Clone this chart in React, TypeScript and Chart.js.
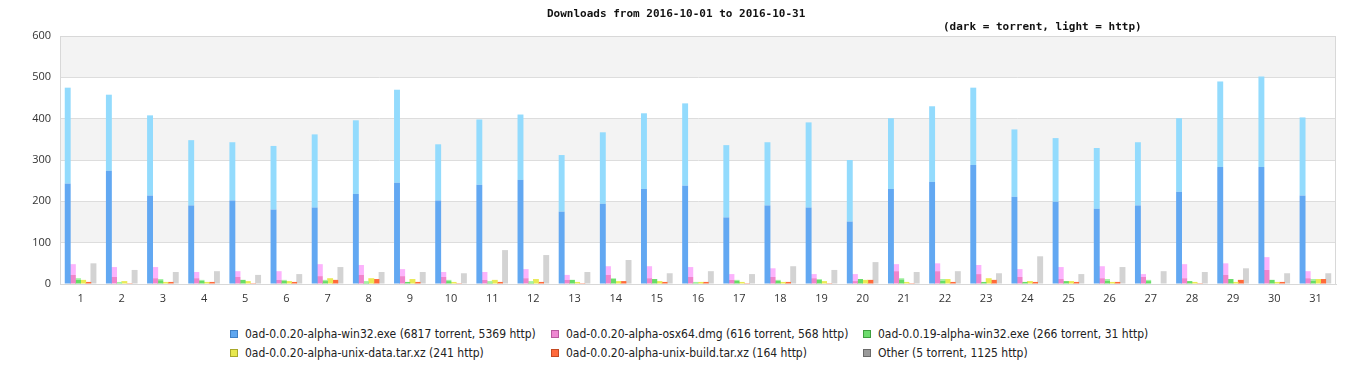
import React, { useEffect, useRef } from "react";
import { Chart, registerables } from "chart.js";

Chart.register(...registerables);

const days = ["1","2","3","4","5","6","7","8","9","10","11","12","13","14","15","16","17","18","19","20","21","22","23","24","25","26","27","28","29","30","31"];
const yTicks = [0, 100, 200, 300, 400, 500, 600];

const win32Torrent = [243,274,214,190,202,180,185,218,245,202,240,252,175,194,230,238,161,190,185,151,230,247,288,211,199,182,190,223,283,283,214];
const win32Http = [232,184,194,158,141,154,177,178,225,136,158,158,137,173,183,199,175,153,206,149,171,183,187,163,154,147,153,178,207,219,189];
const osxTorrent = [22,17,14,14,17,10,19,22,19,17,10,14,10,22,14,17,10,17,14,7,31,31,24,17,12,14,17,14,22,34,14];
const osxHttp = [26,24,27,15,14,21,29,24,17,12,19,22,12,21,29,24,14,21,10,17,17,19,22,19,29,29,7,34,28,31,17];
const win19Torrent = [10,1,9,8,10,8,7,3,5,7,3,3,10,12,12,1,8,8,10,12,11,8,5,5,7,8,7,7,12,10,8];
const win19Http = [4,4,3,2,0,2,3,4,0,3,4,4,0,2,0,4,2,2,2,0,3,4,0,0,0,4,3,0,0,0,4];
const unixDataHttp = [10,7,5,5,7,7,14,14,12,5,10,12,5,7,7,5,5,5,7,10,5,12,14,7,7,5,0,5,5,5,12];
const unixBuildHttp = [5,2,5,5,2,5,10,12,5,2,5,5,2,7,5,5,2,5,2,10,2,5,10,5,5,5,0,2,10,5,12];
const otherHttp = [50,34,29,31,22,24,41,29,29,26,82,70,29,58,26,31,24,43,34,53,29,31,26,67,24,41,31,29,38,26,26];

const titleText = "Downloads from 2016-10-01 to 2016-10-31";
const subtitleText = "(dark = torrent, light = http)";

const legendItems = [
  { label: "0ad-0.0.20-alpha-win32.exe (6817 torrent, 5369 http)", color: "#5ea6f0", border: "#3f7fc4" },
  { label: "0ad-0.0.20-alpha-osx64.dmg (616 torrent, 568 http)", color: "#ee88d2", border: "#b85a9e" },
  { label: "0ad-0.0.19-alpha-win32.exe (266 torrent, 31 http)", color: "#6ddc6d", border: "#3e9e3e" },
  { label: "0ad-0.0.20-alpha-unix-data.tar.xz (241 http)", color: "#e8e84e", border: "#a8a82a" },
  { label: "0ad-0.0.20-alpha-unix-build.tar.xz (164 http)", color: "#ff6a3c", border: "#c44a22" },
  { label: "Other (5 torrent, 1125 http)", color: "#9a9a9a", border: "#6a6a6a" },
];

const bandPlugin = {
  id: "bands",
  beforeDraw(chart: any) {
    const { ctx, chartArea, scales } = chart;
    const y = scales.y;
    ctx.save();
    ctx.fillStyle = "#f3f3f3";
    [[100, 200], [300, 400], [500, 600]].forEach(([lo, hi]) => {
      const t = y.getPixelForValue(hi);
      const b = y.getPixelForValue(lo);
      ctx.fillRect(chartArea.left, t, chartArea.right - chartArea.left, b - t);
    });
    ctx.restore();
  },
  afterDraw(chart: any) {
    const { ctx, chartArea } = chart;
    ctx.save();
    ctx.strokeStyle = "#d8d8d8";
    ctx.lineWidth = 1;
    ctx.strokeRect(Math.round(chartArea.left) + 0.5, Math.round(chartArea.top) + 0.5,
      Math.round(chartArea.right - chartArea.left) - 1, Math.round(chartArea.bottom - chartArea.top));
    ctx.restore();
  },
};

export default function App() {
  const ref = useRef<HTMLCanvasElement | null>(null);
  useEffect(() => {
    if (!ref.current) return;
    const mk = (label: string, data: number[], color: string, stack: string) => ({
      label, data, backgroundColor: color, stack, borderWidth: 0,
      barPercentage: 1.15, categoryPercentage: 0.75,
    });
    const chart = new Chart(ref.current, {
      type: "bar",
      data: {
        labels: days,
        datasets: [
          mk("win32 torrent", win32Torrent, "#62a8f2", "a"),
          mk("win32 http", win32Http, "#93dbfd", "a"),
          mk("osx torrent", osxTorrent, "#f184cc", "b"),
          mk("osx http", osxHttp, "#fcb3fc", "b"),
          mk("0.19 torrent", win19Torrent, "#66dd66", "c"),
          mk("0.19 http", win19Http, "#a2f3a2", "c"),
          mk("unix-data http", unixDataHttp, "#eaea55", "d"),
          mk("unix-build http", unixBuildHttp, "#ff6a3a", "e"),
          mk("other http", otherHttp, "#d3d3d3", "f"),
        ],
      },
      options: {
        animation: false,
        responsive: true,
        maintainAspectRatio: false,
        layout: { padding: { top: 28, right: 22, left: 0, bottom: 0 } },
        plugins: { legend: { display: false }, tooltip: { enabled: false }, title: { display: false } },
        scales: {
          x: {
            stacked: true,
            grid: { display: false },
            border: { display: true, color: "#d8d8d8" },
            ticks: { color: "#333", font: { family: "Open Sans", size: 11 }, padding: 0, maxRotation: 0 },
            afterFit: (s: any) => { s.height = 24; },
          },
          y: {
            stacked: true,
            min: 0, max: 600,
            afterBuildTicks: (s: any) => { s.ticks = yTicks.map((v) => ({ value: v })); },
            grid: { color: "#dddddd", drawTicks: false },
            border: { display: true, color: "#d8d8d8" },
            ticks: { color: "#333", font: { family: "Open Sans", size: 11 }, padding: 9 },
            afterFit: (s: any) => { s.width = 52; },
          },
        },
      },
      plugins: [bandPlugin],
    });
    return () => chart.destroy();
  }, []);

  return (
    <div style={{ position: "relative", width: 1350, height: 364 }}>
      <div style={{ position: "absolute", left: 0, top: 0, width: 1350, height: 300 }}>
        <canvas ref={ref} />
      </div>
      <div style={{ position: "absolute", left: 539, top: -1, font: "bold 11px 'DejaVu Sans Mono'", color: "#111", whiteSpace: "nowrap" }}>{titleText}</div>
      <div style={{ position: "absolute", left: 935, top: 12, font: "bold 11px 'DejaVu Sans Mono'", color: "#111", whiteSpace: "nowrap" }}>{subtitleText}</div>
      {legendItems.map((it, i) => {
        const col = i % 3;
        const row = Math.floor(i / 3);
        const lefts = [222, 543, 855];
        return (
          <div key={i} style={{ position: "absolute", left: lefts[col], top: 319 + row * 19, display: "flex", alignItems: "center", whiteSpace: "nowrap", font: "12px 'DejaVu Sans Condensed', 'DejaVu Sans'", fontStretch: "condensed", color: "#222" }}>
            <span style={{ display: "inline-block", width: 6, height: 6, background: it.color, border: `1px solid ${it.border}`, marginRight: 7 }} />
            <span>{it.label}</span>
          </div>
        );
      })}
    </div>
  );
}
